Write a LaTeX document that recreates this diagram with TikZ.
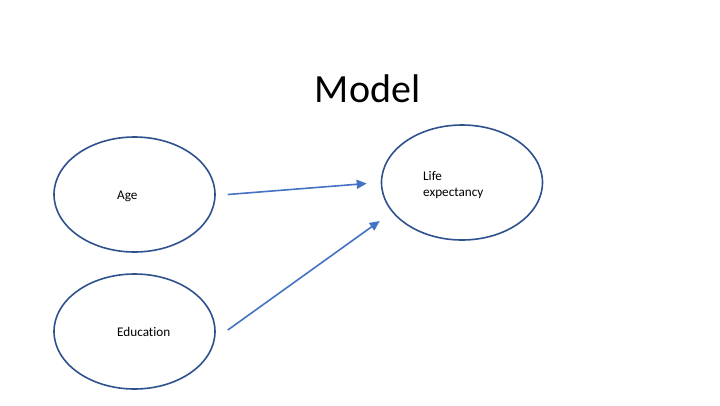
\documentclass[tikz,border=0pt]{standalone}
\usepackage{fontspec}
\setmainfont{Carlito}[Ligatures={NoCommon}]
\usetikzlibrary{arrows.meta,calc,shapes.geometric}
\definecolor{ringblue}{HTML}{2F528F}
\definecolor{arrowblue}{HTML}{4472C4}
\begin{document}
\begin{tikzpicture}[x=1pt,y=-1pt,
  varnode/.style={draw=ringblue,line width=1.6pt,ellipse,minimum width=161pt,minimum height=115pt,inner sep=0pt},
  label/.style={anchor=west,font=\fontsize{13.2}{16}\selectfont,align=left,inner sep=0pt},
  link/.style={draw=arrowblue,line width=1.6pt,-{Triangle[length=10pt,width=9pt]}}]
  \useasboundingbox[fill=white] (0,0) rectangle (720,405);
  % heading
  \node[anchor=base,font=\fontsize{40}{48}\selectfont,inner sep=0pt] (title) at (367.5,102) {Model};
  % variables
  \node[varnode] (age) at (134.5,194.5) {};
  \node[varnode] (edu) at (134.5,331.5) {};
  \node[varnode] (life) at (462,182.5) {};
  \node[label] (agetext) at (117,196) {Age};
  \node[label] (edutext) at (117,332) {Education};
  \node[label] (lifetext) at (423,185) {Life\\expectancy};
  % effects
  \draw[link] ($(age.east)+(12,0)$) -- ($(life.west)+(-14,1)$);
  \draw[link] ($(edu.east)+(12,-1.5)$) -- ($(life.west)+(-1,38.5)$);
\end{tikzpicture}
\end{document}
